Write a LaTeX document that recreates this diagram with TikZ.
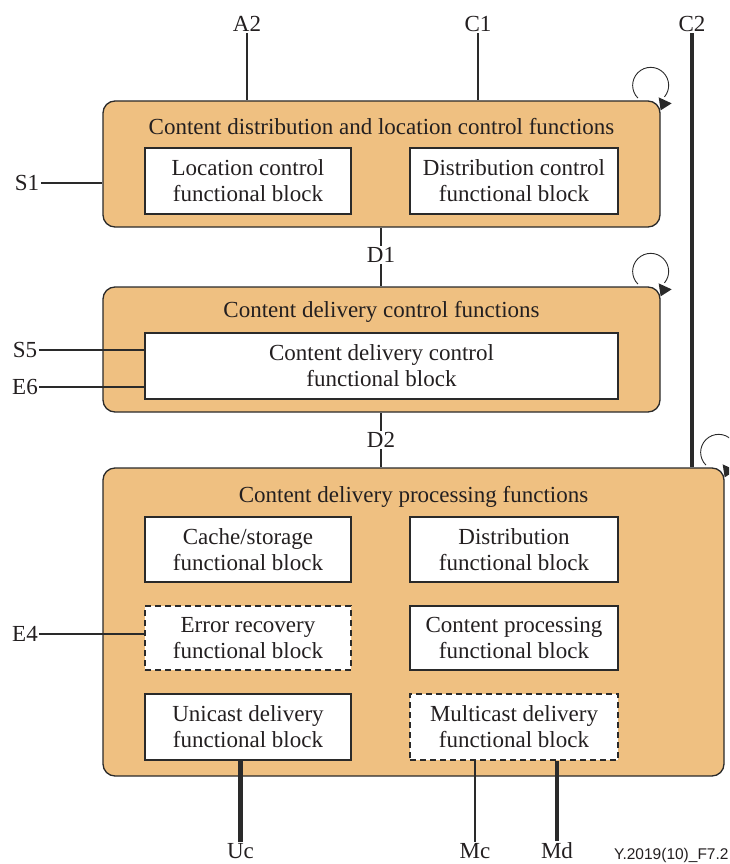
\documentclass[tikz,border=0pt]{standalone}
\usepackage{fontspec}
\setmainfont{Liberation Serif}
\newfontfamily\figsans{Liberation Sans}
\usetikzlibrary{calc}
\definecolor{cdfill}{HTML}{EFC081}
\definecolor{cdline}{HTML}{2A2A2A}
\definecolor{cdtext}{HTML}{231F20}
\tikzset{
  funcgroup/.style={draw=cdline, fill=cdfill, line width=1.3pt, rounded corners=12pt, inner sep=0pt},
  fblock/.style={draw=cdline, fill=white, line width=1.3pt, align=center, inner sep=0pt, text=cdtext, font=\fontsize{23}{26}\selectfont},
  optblock/.style={fblock, dash pattern=on 6pt off 4pt},
  refpt/.style={inner sep=1.5pt, text=cdtext, font=\fontsize{23}{26}\selectfont},
  grouptitle/.style={refpt, text depth=0pt},
  ifline/.style={draw=cdline, line width=1.3pt},
  ifthick/.style={draw=cdline, line width=4.5pt},
  selfloop/.style={draw=cdline, line width=0.9pt}
}
\newcommand{\looparc}[2]{%
  \draw[selfloop] ($(#1.north east)+(#2,-15)$) ++(135:18) arc[start angle=135, end angle=400, radius=18];
  \fill[cdline] ($(#1.north east)+(-2,-3)$)-- ++(13,6)-- ++(-11,7)--cycle;
}

\begin{document}
\begin{tikzpicture}[x=1pt,y=-1pt]
  \useasboundingbox (0,0) rectangle (729,864);
  \clip (0,0) rectangle (729,864);

  \node[funcgroup, minimum width=557pt, minimum height=126pt] (cdlc) at (381.5,164) {};
  \node[grouptitle] (cdlctitle) at (381.5,126) {Content distribution and location control functions};
  \node[fblock, minimum width=206pt, minimum height=66pt] (locb) at (248,181) {Location control\\functional block};
  \node[fblock, minimum width=208pt, minimum height=66pt] (distcb) at (514,181) {Distribution control\\functional block};

  \node[funcgroup, minimum width=557pt, minimum height=125pt] (cdc) at (381.5,349.5) {};
  \node[grouptitle] (cdctitle) at (381.5,309) {Content delivery control functions};
  \node[fblock, minimum width=473pt, minimum height=66pt] (cdcb) at (381.5,366) {Content delivery control\\functional block};

  \node[funcgroup, minimum width=621pt, minimum height=308pt] (cdp) at (413.5,622) {};
  \node[grouptitle] (cdptitle) at (413.5,494) {Content delivery processing functions};
  \node[fblock, minimum width=206pt, minimum height=65pt] (cacheb) at (248,549.5) {Cache/storage\\functional block};
  \node[fblock, minimum width=208pt, minimum height=65pt] (distb) at (514,549.5) {Distribution\\functional block};
  \node[optblock, minimum width=206pt, minimum height=64pt] (errb) at (248,638) {Error recovery\\functional block};
  \node[fblock, minimum width=208pt, minimum height=64pt] (procb) at (514,638) {Content processing\\functional block};
  \node[fblock, minimum width=206pt, minimum height=66pt] (unib) at (248,727) {Unicast delivery\\functional block};
  \node[optblock, minimum width=208pt, minimum height=66pt] (multib) at (514,727) {Multicast delivery\\functional block};

  \node[refpt] (a2) at (247,24) {A2};
  \node[refpt] (c1) at (478,24) {C1};
  \node[refpt] (c2) at (692,24) {C2};
  \node[refpt] (s1) at (27,183) {S1};
  \node[refpt] (d1) at (381,255) {D1};
  \node[refpt] (s5) at (25,350) {S5};
  \node[refpt] (e6) at (25,387) {E6};
  \node[refpt] (d2) at (381,440) {D2};
  \node[refpt] (e4) at (25,634) {E4};
  \node[refpt] (uc) at (240.5,851) {Uc};
  \node[refpt] (mc) at (475,851) {Mc};
  \node[refpt] (md) at (557,851) {Md};
  \node[anchor=west, inner sep=0pt, text=cdtext, font=\figsans\fontsize{15.5}{16}\selectfont] (figno) at (614,855) {Y.2019(10)\_F7.2};

  \draw[ifline] (a2) -- (a2 |- cdlc.north);
  \draw[ifline] (c1) -- (c1 |- cdlc.north);
  \draw[ifthick] (c2) -- (c2 |- cdp.north);
  \draw[ifline] (s1) -- (s1 -| cdlc.west);
  \draw[ifline] (d1) -- (d1 |- cdlc.south);
  \draw[ifline] (d1) -- (d1 |- cdc.north);
  \draw[ifline] (s5) -- (s5 -| cdcb.west);
  \draw[ifline] (e6) -- (e6 -| cdcb.west);
  \draw[ifline] (d2) -- (d2 |- cdc.south);
  \draw[ifline] (d2) -- (d2 |- cdp.north);
  \draw[ifline] (e4) -- (e4 -| errb.west);
  \draw[ifthick] (uc) -- (uc |- unib.south);
  \draw[ifline] (mc) -- (mc |- multib.south);
  \draw[ifthick] (md) -- (md |- multib.south);

  \looparc{cdlc}{-10}
  \looparc{cdc}{-10}
  \looparc{cdp}{-6}
\end{tikzpicture}
\end{document}
